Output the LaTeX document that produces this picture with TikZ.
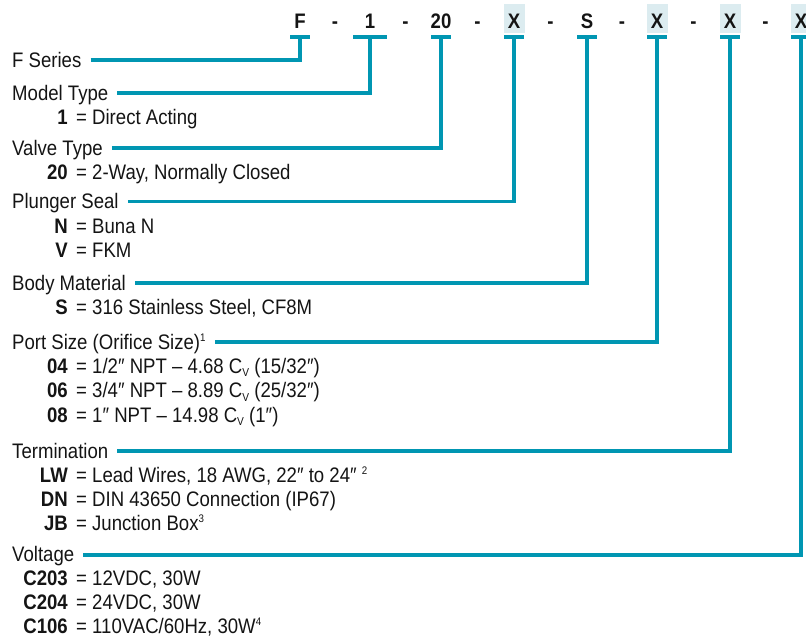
\documentclass[tikz,border=0pt]{standalone}
\usepackage{fontspec}
\setmainfont{Liberation Sans}[FakeStretch=0.885]
\definecolor{lineteal}{RGB}{0,150,178}
\definecolor{boxfill}{RGB}{220,236,240}
\definecolor{ink}{RGB}{20,20,20}
\newcommand{\subv}[1]{\raisebox{-3.5pt}{\fontsize{11.5}{11.5}\selectfont #1}}
\newcommand{\supn}[1]{\raisebox{7.5pt}{\fontsize{11}{11}\selectfont #1}}
\begin{document}
\begin{tikzpicture}[x=1pt,y=-1pt,
  conn/.style={draw=lineteal, line width=3.6pt},
  bar/.style={draw=lineteal, line width=4pt},
  hdr/.style={inner sep=0pt, anchor=base, text=ink, font=\fontsize{21}{24}\selectfont\bfseries},
  lbl/.style={inner sep=0pt, anchor=base west, text=ink, font=\fontsize{21}{24}\selectfont},
  code/.style={inner sep=0pt, anchor=base east, text=ink, font=\fontsize{21}{24}\selectfont\bfseries},
  xbox/.style={fill=boxfill, draw=none}]
\useasboundingbox (0,0) rectangle (806,637);
% header boxes behind X
\fill[xbox] (503.5,4) rectangle (524.5,33);
\fill[xbox] (646.5,4) rectangle (667.5,33);
\fill[xbox] (719.5,4) rectangle (740.5,33);
\fill[xbox] (790.5,4) rectangle (811.5,33);
% header codes
\node[hdr] (h1) at (300,28) {F};
\node[hdr] (h2) at (370,28) {1};
\node[hdr] (h3) at (441,28) {20};
\node[hdr] (h4) at (514,28) {X};
\node[hdr] (h5) at (587,28) {S};
\node[hdr] (h6) at (657,28) {X};
\node[hdr] (h7) at (730,28) {X};
\node[hdr] (h8) at (801,28) {X};
\node[hdr] (m1) at (335,28) {-};
\node[hdr] (m2) at (405.5,28) {-};
\node[hdr] (m3) at (477.5,28) {-};
\node[hdr] (m4) at (550.5,28) {-};
\node[hdr] (m5) at (622,28) {-};
\node[hdr] (m6) at (693.5,28) {-};
\node[hdr] (m7) at (765.5,28) {-};
% stem tops
\coordinate (s1) at (300,36.5);
\coordinate (s2) at (370,36.5);
\coordinate (s3) at (441,36.5);
\coordinate (s4) at (514,36.5);
\coordinate (s5) at (587,36.5);
\coordinate (s6) at (657,36.5);
\coordinate (s7) at (730,36.5);
\coordinate (s8) at (801,36.5);
% T bars
\draw[bar] ([xshift=-10pt]s1) -- ([xshift=10pt]s1);
\draw[bar] ([xshift=-17pt]s2) -- ([xshift=17pt]s2);
\draw[bar] ([xshift=-10pt]s3) -- ([xshift=10pt]s3);
\draw[bar] ([xshift=-10pt]s4) -- ([xshift=10pt]s4);
\draw[bar] ([xshift=-10pt]s5) -- ([xshift=10pt]s5);
\draw[bar] ([xshift=-10pt]s6) -- ([xshift=10pt]s6);
\draw[bar] ([xshift=-10pt]s7) -- ([xshift=10pt]s7);
\draw[bar] ([xshift=-10pt]s8) -- ([xshift=10pt]s8);
% labels
\node[lbl] (fs) at (12,67) {F Series};
\node[lbl] (mt) at (12,100) {Model Type};
\node[code] (c1a) at (68,124) {1};
\node[lbl] (t1a) at (76,124) {= Direct Acting};
\node[lbl] (vt) at (12,155) {Valve Type};
\node[code] (c2a) at (68,179) {20};
\node[lbl] (t2a) at (76,179) {= 2-Way, Normally Closed};
\node[lbl] (ps) at (12,208.5) {Plunger Seal};
\node[code] (c3a) at (68,233) {N};
\node[lbl] (t3a) at (76,233) {= Buna N};
\node[lbl] (t3b) at (76,257.5) {= FKM};
\node[code] (c3b) at (68,257.5) {V};
\node[lbl] (bm) at (12,290) {Body Material};
\node[code] (c4a) at (68,314) {S};
\node[lbl] (t4a) at (76,314) {= 316 Stainless Steel, CF8M};
\node[lbl] (po) at (12,349) {Port Size (Orifice Size)\supn{1}};
\node[code] (c5a) at (68,373) {04};
\node[lbl] (t5a) at (76,373) {= 1/2″ NPT – 4.68 C\subv{V} (15/32″)};
\node[code] (c5b) at (68,397.5) {06};
\node[lbl] (t5b) at (76,397.5) {= 3/4″ NPT – 8.89 C\subv{V} (25/32″)};
\node[code] (c5c) at (68,422) {08};
\node[lbl] (t5c) at (76,422) {= 1″ NPT – 14.98 C\subv{V} (1″)};
\node[lbl] (te) at (12,458) {Termination};
\node[code] (c6a) at (68,482) {LW};
\node[lbl] (t6a) at (76,482) {= Lead Wires, 18 AWG, 22″ to 24″ \supn{2}};
\node[code] (c6b) at (68,506) {DN};
\node[lbl] (t6b) at (76,506) {= DIN 43650 Connection (IP67)};
\node[code] (c6c) at (68,530) {JB};
\node[lbl] (t6c) at (76,530) {= Junction Box\supn{3}};
\node[lbl] (vo) at (12,561) {Voltage};
\node[code] (c7a) at (68,585) {C203};
\node[lbl] (t7a) at (76,585) {= 12VDC, 30W};
\node[code] (c7b) at (68,609) {C204};
\node[lbl] (t7b) at (76,609) {= 24VDC, 30W};
\node[code] (c7c) at (68,633) {C106};
\node[lbl] (t7c) at (76,633) {= 110VAC/60Hz, 30W\supn{4}};
% connectors
\draw[conn] ([xshift=9pt,yshift=7pt]fs.base east) -| (s1);
\draw[conn] ([xshift=9pt,yshift=7pt]mt.base east) -| (s2);
\draw[conn] ([xshift=9pt,yshift=7pt]vt.base east) -| (s3);
\draw[conn] ([xshift=9pt,yshift=7pt]ps.base east) -| (s4);
\draw[conn] ([xshift=9pt,yshift=7pt]bm.base east) -| (s5);
\draw[conn] ([xshift=9pt,yshift=7pt]po.base east) -| (s6);
\draw[conn] ([xshift=9pt,yshift=7pt]te.base east) -| (s7);
\draw[conn] ([xshift=9pt,yshift=6pt]vo.base east) -| (s8);
\end{tikzpicture}
\end{document}
